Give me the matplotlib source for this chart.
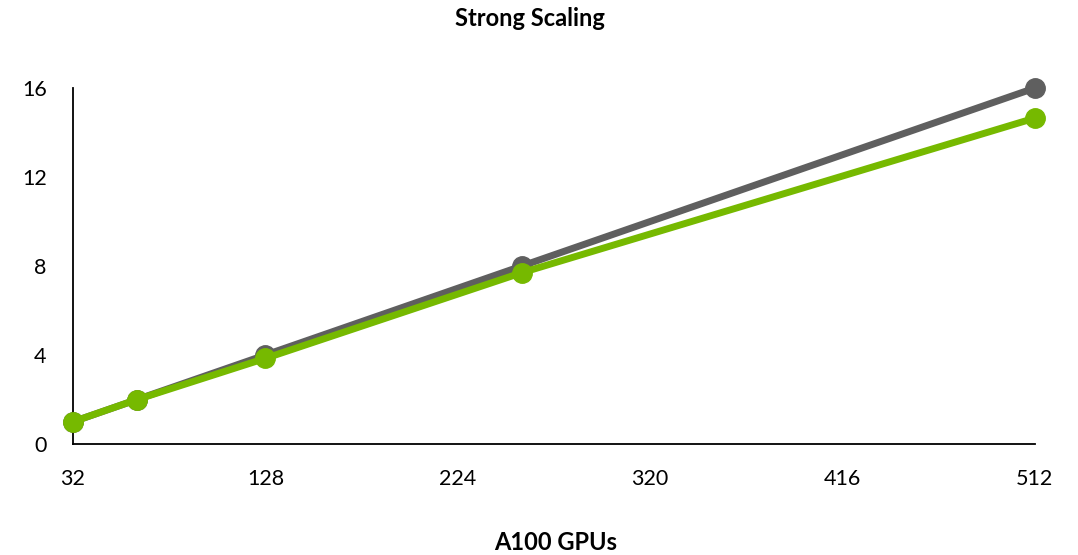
import matplotlib.pyplot as plt

# GPU count and speedup relative to 32 GPUs
gpus = [32, 64, 128, 256, 512]
ideal = [1, 2, 4, 8, 16]
measured = [1, 2.0, 3.85, 7.7, 14.65]

x_ticks = [32, 128, 224, 320, 416, 512]
y_ticks = [0, 4, 8, 12, 16]

plt.rcParams['font.family'] = ['Lato', 'DejaVu Sans']

fig = plt.figure(figsize=(10.78, 5.55), dpi=100)
ax = fig.add_axes([0.0677, 0.2, 0.8923, 0.6414])

ax.plot(gpus, ideal, color='#5f5f5f', lw=5, marker='o', ms=14,
        solid_capstyle='round', zorder=2)
ax.plot(gpus, measured, color='#76b900', lw=5, marker='o', ms=14,
        solid_capstyle='round', zorder=3)

ax.set_xlim(32, 512)
ax.set_ylim(0, 16)
ax.set_xticks(x_ticks)
ax.set_yticks(y_ticks)
ax.tick_params(length=0, labelsize=15.5)
ax.tick_params(axis='x', pad=18)
ax.tick_params(axis='y', pad=19)

for side in ['top', 'right']:
    ax.spines[side].set_visible(False)
for side in ['left', 'bottom']:
    ax.spines[side].set_linewidth(1.3)
    ax.spines[side].set_color('black')

for p in ax.lines:
    p.set_clip_on(False)

fig.text(0.492, 0.967, 'Strong Scaling', ha='center', va='center',
         fontsize=17, fontweight='bold')
fig.text(0.515, 0.022, 'A100 GPUs', ha='center', va='center',
         fontsize=17, fontweight='bold')

fig.savefig('out.png', dpi=100)
